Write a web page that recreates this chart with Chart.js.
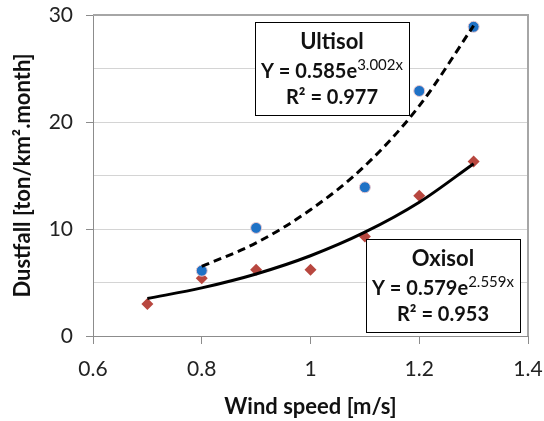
<!DOCTYPE html>
<html>
<head>
<meta charset="utf-8">
<script src="https://cdn.jsdelivr.net/npm/chart.js@4.4.1/dist/chart.umd.min.js"></script>
<style>
  html, body { margin: 0; padding: 0; background: #fff; }
  #wrap { width: 544px; height: 421px; }
</style>
</head>
<body>
<div id="wrap"><canvas id="chart" width="544" height="421"></canvas></div>
<script>
// measured points
const ultisolX = [0.8, 0.9, 1.1, 1.2, 1.3];
const ultisolY = [6.1, 10.1, 13.9, 22.9, 28.9];
const oxisolX = [0.7, 0.8, 0.9, 1.0, 1.1, 1.2, 1.3];
const oxisolY = [3.0, 5.4, 6.2, 6.2, 9.3, 13.1, 16.3];

// trend curves
const ultisolTrendX = [0.8, 0.9, 1.0, 1.1, 1.2, 1.3];
const ultisolTrendY = [6.5, 8.7, 11.8, 15.9, 21.5, 29.0];
const oxisolTrendX = [0.7, 0.8, 0.9, 1.0, 1.1, 1.2, 1.3];
const oxisolTrendY = [3.5, 4.5, 5.8, 7.5, 9.7, 12.5, 16.1];

const xTicks = ['0.6', '0.8', '1', '1.2', '1.4'];
const yTicks = [0, 10, 20, 30];

const ultisolLabel = ['Ultisol', '0.585e', '3.002x', 'R² = 0.977'];
const oxisolLabel = ['Oxisol', '0.579e', '2.559x', 'R² = 0.953'];

const FONT = 'Lato, "Open Sans", sans-serif';

const toPts = (xs, ys) => xs.map((x, i) => ({ x: x, y: ys[i] }));

// frame on top and right + the two equation boxes
const boxPlugin = {
    id: 'boxes',
    afterDatasetsDraw(chart) {
        const ctx = chart.ctx;
        const a = chart.chartArea;
        ctx.save();
        ctx.strokeStyle = '#a6a6a6';
        ctx.lineWidth = 2;
        ctx.beginPath();
        ctx.moveTo(a.left, a.top);
        ctx.lineTo(a.right, a.top);
        ctx.lineTo(a.right, a.bottom);
        ctx.stroke();

        const drawBox = (x, y, w, h, lines) => {
            ctx.fillStyle = '#fff';
            ctx.fillRect(x, y, w, h);
            ctx.strokeStyle = '#000';
            ctx.lineWidth = 1;
            ctx.strokeRect(x + 0.5, y + 0.5, w, h);
            const cx = x + w / 2;
            ctx.fillStyle = '#111';
            ctx.textBaseline = 'middle';
            ctx.textAlign = 'center';
            ctx.font = 'bold 22px ' + FONT;
            ctx.fillText(lines[0], cx, y + 20);
            // equation with superscript
            const main = 'Y = ' + lines[1];
            ctx.font = 'bold 20px ' + FONT;
            const w1 = ctx.measureText(main).width;
            ctx.font = '15px ' + FONT;
            const w2 = ctx.measureText(lines[2]).width;
            let sx = cx - (w1 + w2) / 2;
            ctx.textAlign = 'left';
            ctx.font = 'bold 20px ' + FONT;
            ctx.fillText(main, sx, y + 50);
            ctx.font = '15px ' + FONT;
            ctx.fillText(lines[2], sx + w1, y + 43);
            ctx.textAlign = 'center';
            ctx.font = 'bold 20px ' + FONT;
            ctx.fillText(lines[3], cx, y + 76);
        };
        drawBox(255, 22, 154, 93, ultisolLabel);
        drawBox(366, 239, 154, 93, oxisolLabel);
        ctx.restore();
    }
};

const ctx = document.getElementById('chart').getContext('2d');
new Chart(ctx, {
    type: 'scatter',
    data: {
        datasets: [{
            label: 'Ultisol trend',
            data: toPts(ultisolTrendX, ultisolTrendY),
            showLine: true,
            borderColor: '#000',
            borderWidth: 3,
            borderDash: [8, 5],
            pointRadius: 0,
            cubicInterpolationMode: 'monotone',
            order: 0
        }, {
            label: 'Oxisol trend',
            data: toPts(oxisolTrendX, oxisolTrendY),
            showLine: true,
            borderColor: '#000',
            borderWidth: 3,
            pointRadius: 0,
            cubicInterpolationMode: 'monotone',
            order: 0
        }, {
            label: 'Ultisol',
            data: toPts(ultisolX, ultisolY),
            pointStyle: 'circle',
            pointRadius: 5.5,
            backgroundColor: '#1f72c6',
            borderColor: '#e8c9d0',
            borderWidth: 1,
            order: 1
        }, {
            label: 'Oxisol',
            data: toPts(oxisolX, oxisolY),
            pointStyle: 'rectRot',
            pointRadius: 6,
            backgroundColor: '#b8473f',
            borderColor: '#b8473f',
            borderWidth: 0,
            order: 1
        }]
    },
    options: {
        responsive: false,
        animation: false,
        layout: { padding: { left: 0, right: 16, top: 15, bottom: 0 } },
        plugins: {
            legend: { display: false },
            tooltip: { enabled: false }
        },
        scales: {
            x: {
                type: 'linear',
                min: 0.6,
                max: 1.4,
                afterFit: s => { s.height = 85; s.paddingLeft = 0; s.paddingRight = 0; },
                ticks: {
                    stepSize: 0.2,
                    padding: 13,
                    color: '#222',
                    font: { family: FONT, size: 21 },
                    callback: (v, i) => xTicks[i]
                },
                grid: { drawOnChartArea: false, tickLength: 8, color: '#8c8c8c' },
                border: { color: '#8c8c8c', width: 1 },
                title: {
                    display: true,
                    text: 'Wind speed [m/s]',
                    color: '#111',
                    font: { family: FONT, size: 22, weight: 'bold' },
                    padding: { top: 0, bottom: 1 }
                }
            },
            y: {
                min: 0,
                max: 30,
                afterFit: s => { s.width = 93; s.paddingTop = 0; s.paddingBottom = 0; },
                ticks: {
                    stepSize: 5,
                    padding: 13,
                    color: '#222',
                    font: { family: FONT, size: 21 },
                    callback: v => yTicks.includes(v) ? String(v) : ''
                },
                grid: {
                    tickLength: 7,
                    color: '#d4d4d4',
                    tickColor: c => (c.tick && yTicks.includes(c.tick.value)) ? '#8c8c8c' : 'rgba(0,0,0,0)'
                },
                border: { color: '#8c8c8c', width: 1 },
                title: {
                    display: true,
                    text: 'Dustfall [ton/km².month]',
                    color: '#111',
                    font: { family: FONT, size: 22, weight: 'bold' },
                    padding: { top: 10, bottom: 0 }
                }
            }
        }
    },
    plugins: [boxPlugin]
});
</script>
</body>
</html>
